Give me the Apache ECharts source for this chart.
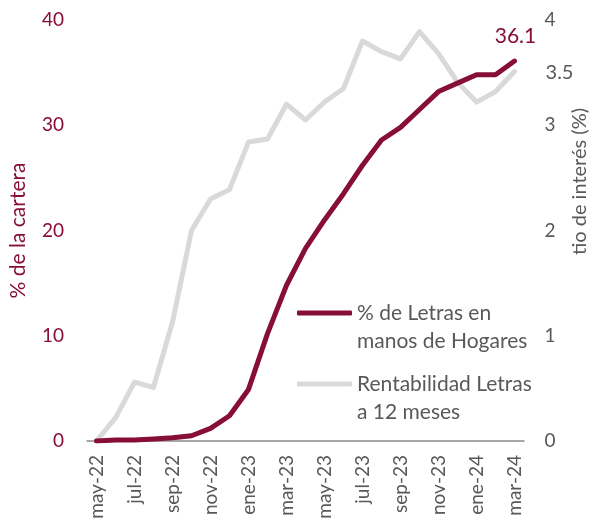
<!DOCTYPE html>
<html><head><meta charset="utf-8">
<script src="https://cdn.jsdelivr.net/npm/echarts@6/dist/echarts.min.js"></script>
<style>html,body{margin:0;padding:0;background:#fff}#c{width:598px;height:528px}</style>
</head><body><div id="c"></div>
<script>
const categories = ['may-22','jun-22','jul-22','ago-22','sep-22','oct-22','nov-22','dic-22','ene-23','feb-23','mar-23','abr-23','may-23','jun-23','jul-23','ago-23','sep-23','oct-23','nov-23','dic-23','ene-24','feb-24','mar-24'];
const shareHouseholds = [0.0,0.1,0.1,0.2,0.3,0.5,1.2,2.4,4.9,10.2,14.8,18.3,21.0,23.5,26.2,28.6,29.8,31.5,33.2,34.0,34.8,34.8,36.1];
const yield12m = [0.0,0.22,0.56,0.51,1.13,2.0,2.30,2.39,2.84,2.87,3.20,3.05,3.22,3.35,3.80,3.70,3.63,3.89,3.68,3.41,3.22,3.32,3.51];
const seriesNames = ['% de Letras en\nmanos de Hogares', 'Rentabilidad Letras\na 12 meses'];
const leftAxisName = '% de la cartera';
const rightAxisName = 'tio de interés (%)';

const RED = '#870E34', GREY = '#D9D9D9', TXT = '#595959';
const FONT = 'Lato';

const legendCommon = {
  padding: 0, icon: 'roundRect', itemWidth: 55, itemHeight: 5, itemGap: 5,
  formatter: name => ' \n' + name,
  textStyle: { fontFamily: FONT, fontSize: 21, color: TXT, lineHeight: 28 }
};

const chart = echarts.init(document.getElementById('c'));
chart.setOption({
  animation: false,
  textStyle: { fontFamily: FONT },
  grid: { left: 86, right: 67, top: 20, bottom: 87 },
  legend: [
    Object.assign({ data: [seriesNames[0]], left: 297, top: 271 }, legendCommon),
    Object.assign({ data: [seriesNames[1]], left: 297, top: 342 }, legendCommon)
  ],
  xAxis: {
    type: 'category', data: categories, boundaryGap: true,
    axisLine: { lineStyle: { color: '#8c8c8c', width: 1.5 } },
    axisTick: { interval: 1, length: 7, lineStyle: { color: '#8c8c8c', width: 1.5 } },
    axisLabel: { interval: 1, rotate: 90, margin: 14, fontSize: 19, color: TXT, fontFamily: FONT }
  },
  yAxis: [
    { type: 'value', min: 0, max: 40, interval: 10, position: 'left',
      name: leftAxisName, nameLocation: 'middle', nameGap: 58, nameRotate: 90,
      nameTextStyle: { color: RED, fontSize: 21, fontFamily: FONT },
      axisLine: { show: false }, axisTick: { show: false }, splitLine: { show: false },
      axisLabel: { margin: 23, fontSize: 19, color: RED, fontFamily: FONT } },
    { type: 'value', min: 0, max: 4, interval: 1, position: 'right',
      name: rightAxisName, nameLocation: 'middle', nameGap: 46, nameRotate: 90,
      nameTextStyle: { color: TXT, fontSize: 20, fontFamily: FONT, padding: [0, 0, 0, 98] },
      axisLine: { show: false }, axisTick: { show: false }, splitLine: { show: false },
      axisLabel: { margin: 26, align: 'center', fontSize: 19, color: TXT, fontFamily: FONT } }
  ],
  series: [
    { name: seriesNames[1], type: 'line', yAxisIndex: 1, symbol: 'none', z: 1,
      color: GREY, lineStyle: { width: 5, color: GREY, cap: 'round', join: 'round' },
      endLabel: { show: true, distance: 0, align: 'center', verticalAlign: 'middle', offset: [45, 1],
        formatter: p => Number(p.value).toFixed(1), color: TXT, fontSize: 20, fontFamily: FONT },
      data: yield12m },
    { name: seriesNames[0], type: 'line', yAxisIndex: 0, symbol: 'none', z: 2,
      color: RED, lineStyle: { width: 5, color: RED, cap: 'round', join: 'round' },
      endLabel: { show: true, distance: 0, align: 'center', verticalAlign: 'middle', offset: [1, -25],
        formatter: p => Number(p.value).toFixed(1), color: RED, fontSize: 21, fontFamily: FONT },
      data: shareHouseholds }
  ]
});
</script></body></html>
